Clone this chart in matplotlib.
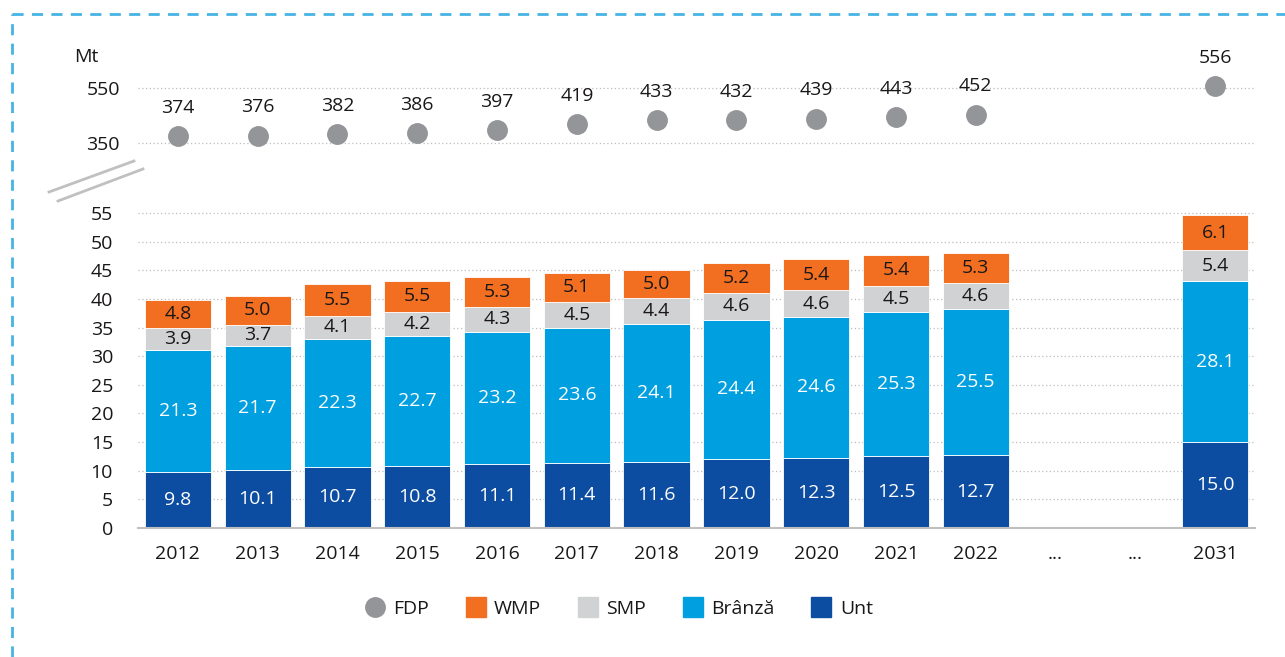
import matplotlib
matplotlib.use("Agg")
import matplotlib.pyplot as plt
from matplotlib.lines import Line2D

plt.rcParams['font.family'] = ['Open Sans', 'DejaVu Sans']

tick_labels = ["2012", "2013", "2014", "2015", "2016", "2017", "2018", "2019",
               "2020", "2021", "2022", "...", "...", "2031"]
years = ["2012", "2013", "2014", "2015", "2016", "2017", "2018", "2019",
         "2020", "2021", "2022", "2031"]
unt = [9.8, 10.1, 10.7, 10.8, 11.1, 11.4, 11.6, 12.0, 12.3, 12.5, 12.7, 15.0]
branza = [21.3, 21.7, 22.3, 22.7, 23.2, 23.6, 24.1, 24.4, 24.6, 25.3, 25.5, 28.1]
smp = [3.9, 3.7, 4.1, 4.2, 4.3, 4.5, 4.4, 4.6, 4.6, 4.5, 4.6, 5.4]
wmp = [4.8, 5.0, 5.5, 5.5, 5.3, 5.1, 5.0, 5.2, 5.4, 5.4, 5.3, 6.1]
fdp = [374, 376, 382, 386, 397, 419, 433, 432, 439, 443, 452, 556]

C_UNT = '#0D4DA1'
C_BRANZA = '#009FDF'
C_SMP = '#D1D2D4'
C_WMP = '#F26F21'
C_FDP = '#939598'
TEXT = '#1A1718'
FS = 14

W, H = 1285, 657
fig = plt.figure(figsize=(W / 100, H / 100), dpi=100)


def px_box(x0, y0, x1, y1):
    # pixel box (top-left origin) -> figure fraction rect
    return [x0 / W, 1 - y1 / H, (x1 - x0) / W, (y1 - y0) / H]


ax = fig.add_axes(px_box(138, 201.6, 1255, 528))
ax_top = fig.add_axes(px_box(138, 50, 1255, 150))

pos = [tick_labels.index(y) if y != "2031" else len(tick_labels) - 1 for y in years]

# stacked bars
bottom = [0] * len(years)
segments = [(unt, C_UNT, 'white'), (branza, C_BRANZA, 'white'),
            (smp, C_SMP, TEXT), (wmp, C_WMP, TEXT)]
for vals, color, tcolor in segments:
    ax.bar(pos, vals, width=0.83, bottom=bottom, color=color,
           edgecolor='white', linewidth=0.6, zorder=3)
    for x, b, v in zip(pos, bottom, vals):
        ax.text(x, b + v / 2, f"{v:.1f}", ha='center', va='center',
                color=tcolor, fontsize=FS, zorder=4)
    bottom = [b + v for b, v in zip(bottom, vals)]

ax.set_xlim(-0.5, 13.5)
ax.set_ylim(0, 57)
ax.set_yticks(range(0, 56, 5))
ax.set_xticks(range(len(tick_labels)))
ax.set_xticklabels(tick_labels)
ax.tick_params(axis='both', length=0, labelsize=FS, colors=TEXT)
ax.tick_params(axis='y', pad=18)
ax.tick_params(axis='x', pad=12)
ax.grid(axis='y', linestyle=(0, (1, 2)), color='#BDBDBD', linewidth=0.9, zorder=0)
for s in ['top', 'right', 'left']:
    ax.spines[s].set_visible(False)
ax.spines['bottom'].set_color('#BFBFBF')
ax.spines['bottom'].set_linewidth(1.5)
ax.spines['bottom'].set_zorder(5)

# FDP dots on the upper, broken axis
ax_top.plot(pos, fdp, linestyle='none', marker='o', markersize=14,
            color=C_FDP, zorder=3, clip_on=False)
for x, v in zip(pos, fdp):
    ax_top.annotate(str(v), (x, v), xytext=(0, 14), textcoords='offset points',
                    ha='center', va='bottom', fontsize=FS, color=TEXT)
ax_top.set_xlim(-0.5, 13.5)
ax_top.set_ylim(324.5, 688)
ax_top.set_yticks([350, 550])
ax_top.set_xticks([])
ax_top.tick_params(axis='y', length=0, labelsize=FS, colors=TEXT, pad=13)
ax_top.grid(axis='y', linestyle=(0, (1, 2)), color='#BDBDBD', linewidth=0.9, zorder=0)
for s in ax_top.spines.values():
    s.set_visible(False)
ax_top.patch.set_alpha(0)

fig.text(86 / W, 1 - 57 / H, "Mt", ha='center', va='center', fontsize=FS, color=TEXT)

# break marks
for (x0, y0, x1, y1) in [(49, 192, 134, 161), (58, 201, 143, 169)]:
    fig.add_artist(Line2D([x0 / W, x1 / W], [1 - y0 / H, 1 - y1 / H],
                          color='#C0C0C0', linewidth=2))

# dashed frame
frame = dict(color='#45B3E3', linewidth=2, linestyle=(0, (4, 3)))
fig.add_artist(Line2D([12 / W, 12 / W], [0, 1 - 14 / H], **frame))
fig.add_artist(Line2D([12 / W, 1], [1 - 14 / H, 1 - 14 / H], **frame))

handles = [
    Line2D([], [], linestyle='none', marker='o', markersize=14, color=C_FDP),
    Line2D([], [], linestyle='none', marker='s', markersize=15, color=C_WMP),
    Line2D([], [], linestyle='none', marker='s', markersize=15, color=C_SMP),
    Line2D([], [], linestyle='none', marker='s', markersize=15, color=C_BRANZA),
    Line2D([], [], linestyle='none', marker='s', markersize=15, color=C_UNT),
]
fig.legend(handles, ["FDP", "WMP", "SMP", "Brânză", "Unt"], loc='center',
           bbox_to_anchor=(619 / W, 1 - 609 / H), ncol=5, frameon=False,
           fontsize=FS, handlelength=1.0, handletextpad=0.45, columnspacing=1.9,
           labelcolor=TEXT)

fig.savefig("out.png", dpi=100)
